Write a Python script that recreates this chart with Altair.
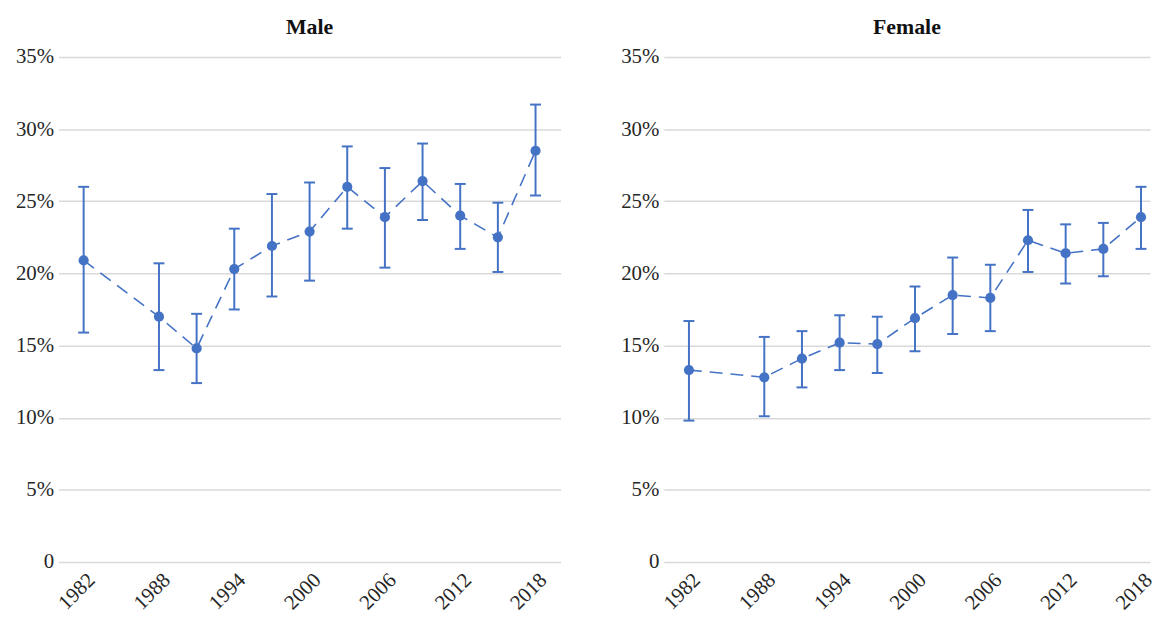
import altair as alt
import pandas as pd

# Survey years and estimated shares (%) with 95% confidence bounds
years = [1982, 1988, 1991, 1994, 1997, 2000, 2003, 2006, 2009, 2012, 2015, 2018]

male = [20.9, 17.0, 14.8, 20.3, 21.9, 22.9, 26.0, 23.9, 26.4, 24.0, 22.5, 28.5]
male_lo = [15.9, 13.3, 12.4, 17.5, 18.4, 19.5, 23.1, 20.4, 23.7, 21.7, 20.1, 25.4]
male_hi = [26.0, 20.7, 17.2, 23.1, 25.5, 26.3, 28.8, 27.3, 29.0, 26.2, 24.9, 31.7]

female = [13.3, 12.8, 14.1, 15.2, 15.1, 16.9, 18.5, 18.3, 22.3, 21.4, 21.7, 23.9]
female_lo = [9.8, 10.1, 12.1, 13.3, 13.1, 14.6, 15.8, 16.0, 20.1, 19.3, 19.8, 21.7]
female_hi = [16.7, 15.6, 16.0, 17.1, 17.0, 19.1, 21.1, 20.6, 24.4, 23.4, 23.5, 26.0]

x_ticks = [1982, 1988, 1994, 2000, 2006, 2012, 2018]
y_ticks = [0, 5, 10, 15, 20, 25, 30, 35]

BLUE = "#4472C4"
FONT = "Liberation Serif"
TEXT = "#262626"


def panel(title, mid, lo, hi, x_max, width):
    df = pd.DataFrame({"year": years, "share": mid, "lo": lo, "hi": hi})
    xs = alt.Scale(domain=[1980, x_max], nice=False, zero=False)
    ys = alt.Scale(domain=[0, 35], nice=False)
    x_axis = alt.Axis(
        values=x_ticks, format="d", labelAngle=-45, title=None, grid=False,
        domain=False, ticks=False, tickSize=0, labelPadding=7,
    )
    y_axis = alt.Axis(
        values=y_ticks, title=None, domain=False, ticks=False, tickSize=0,
        labelPadding=5,
        labelExpr="datum.value == 0 ? '0' : datum.value + '%'",
        grid=True, gridColor="#d9d9d9", gridWidth=1.5,
    )
    x = alt.X("year:Q", scale=xs, axis=x_axis)
    base = alt.Chart(df)
    line = base.mark_line(color=BLUE, strokeDash=[13, 8], strokeWidth=1.6).encode(
        x=x, y=alt.Y("share:Q", scale=ys, axis=y_axis)
    )
    bars = base.mark_rule(color=BLUE, strokeWidth=2).encode(
        x=x, y=alt.Y("lo:Q", scale=ys, axis=y_axis), y2="hi:Q"
    )
    cap_lo = base.mark_tick(color=BLUE, orient="horizontal", size=11, thickness=2, opacity=1).encode(
        x=x, y=alt.Y("lo:Q", scale=ys, axis=y_axis)
    )
    cap_hi = base.mark_tick(color=BLUE, orient="horizontal", size=11, thickness=2, opacity=1).encode(
        x=x, y=alt.Y("hi:Q", scale=ys, axis=y_axis)
    )
    pts = base.mark_circle(color=BLUE, size=105, opacity=1).encode(
        x=x, y=alt.Y("share:Q", scale=ys, axis=y_axis)
    )
    return alt.layer(line, bars, cap_lo, cap_hi, pts).properties(
        width=width, height=509, title=title
    )


male_panel = panel("Male", male, male_lo, male_hi, 2020, 506)
female_panel = panel("Female", female, female_lo, female_hi, 2018.72, 490)

chart = (
    alt.hconcat(male_panel, female_panel, spacing=60)
    .properties(padding={"left": 15, "top": 14, "right": 0, "bottom": 0})
    .configure_view(stroke=None)
    .configure_axis(labelFont=FONT, labelFontSize=21, labelColor=TEXT)
    .configure_title(font=FONT, fontSize=22, fontWeight="bold", color="#111111", offset=7, anchor="middle")
)

chart.save("out.html", embed_options={"renderer": "svg", "actions": False})
